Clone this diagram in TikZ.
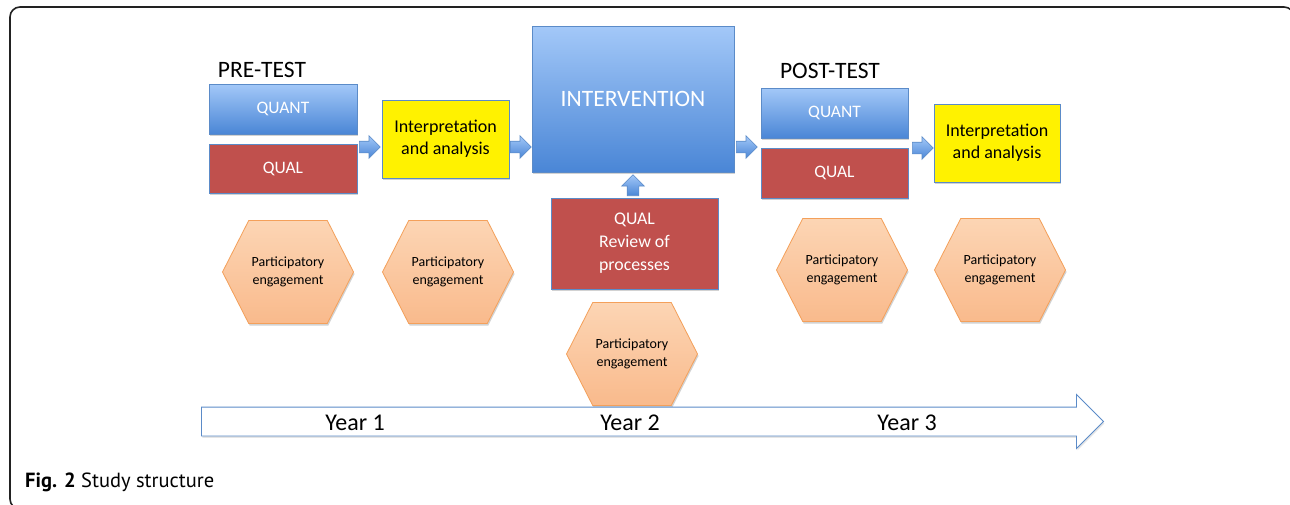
\documentclass[tikz,border=0pt]{standalone}
\usepackage{fontspec}
\setmainfont{Carlito}
\newfontfamily\capfont{PT Sans}
\usetikzlibrary{shapes.symbols,shapes.arrows,shadows}
\definecolor{bluetop}{HTML}{A3C8F8}
\definecolor{bluebot}{HTML}{4A86D6}
\definecolor{blueline}{HTML}{5B8BC8}
\definecolor{qualred}{HTML}{C0504D}
\definecolor{hextop}{HTML}{FCD5B4}
\definecolor{hexbot}{HTML}{F9BA8C}
\definecolor{hexline}{HTML}{F4A05A}
\definecolor{frame}{HTML}{222222}
\begin{document}
\begin{tikzpicture}[x=1pt,y=-1pt,
  shad/.style={drop shadow={opacity=0.25,shadow xshift=1pt,shadow yshift=-2pt,fill=black!70}},
  bluebox/.style={draw=blueline,line width=0.8pt,top color=bluetop,bottom color=bluebot,text=white,shad},
  redbox/.style={draw=blueline,line width=0.8pt,fill=qualred,text=white,shad},
  yelbox/.style={draw=blueline,line width=0.8pt,fill=yellow,text=black,align=center,shad,font=\fontsize{18}{22}\selectfont},
  hexbox/.style={signal,signal to=west and east,signal pointer angle=126,draw=hexline,line width=0.8pt,
     top color=hextop,bottom color=hexbot,minimum width=131,minimum height=103,inner sep=0,align=center,
     font=\fontsize{14}{18}\selectfont,shad},
  blockarrow/.style={single arrow,draw=blueline,line width=0.6pt,top color=bluetop,bottom color=bluebot,
     inner sep=5.5,single arrow head extend=5.5,minimum height=21,anchor=tail},
  lbl/.style={font=\fontsize{23.5}{28}\selectfont},
  yr/.style={font=\fontsize{24}{28}\selectfont},
  boxtxt/.style={font=\fontsize{17.5}{21}\selectfont}
]
\clip (0,0) rectangle (1290,504);
\fill[white] (0,0) rectangle (1290,504);
\draw[frame,line width=1.6pt,rounded corners=10] (10,260) -- (10,7) -- (1294,7) -- (1294,509) -- (10,509) -- cycle;

% pre-test
\node[lbl] (pre) at (262,70) {PRE-TEST};
\node[bluebox,boxtxt,minimum width=148,minimum height=50] (quant1) at (283,109) {QUANT};
\node[redbox,boxtxt,minimum width=148,minimum height=49] (qual1) at (283,168.5) {QUAL};
\node[blockarrow] (a1) at (359,147) {};
\node[yelbox,minimum width=127,minimum height=78] (interp1) at (445.5,139) {Interpretation\\and analysis};
\node[blockarrow] (a2) at (510,147) {};

% intervention
\node[bluebox,minimum width=202,minimum height=146,font=\fontsize{23.5}{28}\selectfont] (interv) at (633,99) {INTERVENTION};
\node[blockarrow,shape border rotate=90] (a3) at (633,196) {};
\node[redbox,minimum width=167,minimum height=91,align=center,font=\fontsize{17.8}{23}\selectfont] (review) at (634.5,243.5) {QUAL\\Review of\\processes};
\node[blockarrow] (a4) at (736,147) {};

% post-test
\node[lbl] (post) at (830,71) {POST-TEST};
\node[bluebox,boxtxt,minimum width=147,minimum height=50] (quant2) at (834.5,113) {QUANT};
\node[redbox,boxtxt,minimum width=147,minimum height=50] (qual2) at (834.5,173) {QUAL};
\node[blockarrow] (a5) at (912,148) {};
\node[yelbox,minimum width=126,minimum height=78] (interp2) at (997,143) {Interpretation\\and analysis};

% hexagons
\node[hexbox] (h1) at (288,272) {Participatory\\engagement};
\node[hexbox] (h2) at (448,272) {Participatory\\engagement};
\node[hexbox] (h3) at (632,354) {Participatory\\engagement};
\node[hexbox] (h4) at (842,270) {Participatory\\engagement};
\node[hexbox] (h5) at (1000,270) {Participatory\\engagement};

% timeline
\node[single arrow,draw=blueline,line width=0.9pt,fill=white,inner xsep=0,inner ysep=14,
      single arrow head extend=12.5,minimum height=902,anchor=tail,
      drop shadow={opacity=0.2,shadow xshift=1pt,shadow yshift=-2pt}] (time) at (201,421.5) {};
\node[yr] (y1) at (355,423) {Year 1};
\node[yr] (y2) at (630,423) {Year 2};
\node[yr] (y3) at (907,423) {Year 3};

% caption
\node[anchor=base west,inner sep=0,font=\capfont\fontsize{20.5}{24}\selectfont] (cap) at (25,487) {\textbf{Fig. 2} Study structure};
\end{tikzpicture}
\end{document}
